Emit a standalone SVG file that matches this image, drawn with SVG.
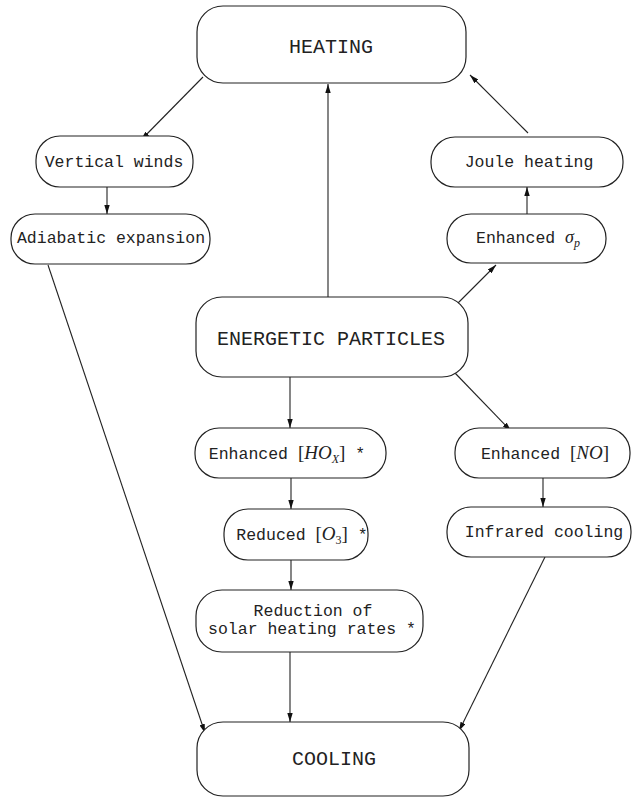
<svg xmlns="http://www.w3.org/2000/svg" width="632" height="798" viewBox="0 0 632 798">
<style>
.box{fill:#fff;stroke:#222;stroke-width:1.2}
.big{font-family:"Liberation Mono",monospace;font-size:20px;fill:#222;text-anchor:middle}
.t{font-family:"Liberation Mono",monospace;font-size:16.5px;fill:#222;text-anchor:middle}
.m{font-family:"Liberation Serif",serif;font-style:italic}
.r{font-family:"Liberation Serif",serif;font-style:normal}
.c{fill:none;stroke:#222;stroke-width:1.1;marker-end:url(#ah)}
</style>
<defs>
<marker id="ah" viewBox="0 0 10 6" refX="10" refY="3" markerWidth="9" markerHeight="5.4" markerUnits="userSpaceOnUse" orient="auto">
<path d="M0,0 L10,3 L0,6 Z" fill="#111"/>
</marker>
</defs>
<g id="connectors">
<path class="c" d="M328,297 L328,84"/>
<path class="c" d="M203,77 L141,140"/>
<path class="c" d="M107,187 L107,214"/>
<path class="c" d="M48,265 L205,733"/>
<path class="c" d="M527,214 L527,187"/>
<path class="c" d="M528,133 L470,75"/>
<path class="c" d="M458,303 L496,265"/>
<path class="c" d="M290,377 L290,428"/>
<path class="c" d="M291,478 L291,509"/>
<path class="c" d="M291,560 L291,590"/>
<path class="c" d="M290,652 L290,722"/>
<path class="c" d="M455,373 L511,431"/>
<path class="c" d="M543,478 L543,507"/>
<path class="c" d="M545,557 L459,731"/>
</g>
<g id="heating">
<rect class="box" x="197" y="6" width="269" height="77" rx="26"/>
<text class="big" x="331" y="53">HEATING</text>
</g>
<g id="vertical-winds">
<rect class="box" x="36" y="136" width="157" height="51" rx="24"/>
<text class="t" x="114" y="167">Vertical winds</text>
</g>
<g id="adiabatic">
<rect class="box" x="11" y="214" width="199" height="50" rx="24"/>
<text class="t" x="111" y="243">Adiabatic expansion</text>
</g>
<g id="joule">
<rect class="box" x="431" y="137" width="192" height="50" rx="24"/>
<text class="t" x="529" y="167">Joule heating</text>
</g>
<g id="sigma">
<rect class="box" x="447" y="214" width="159" height="49" rx="24"/>
<text class="t" x="528" y="243">Enhanced <tspan class="m" font-size="18">σ</tspan><tspan class="m" font-size="12" dy="4">p</tspan></text>
</g>
<g id="energetic">
<rect class="box" x="196" y="297" width="272" height="80" rx="26"/>
<text class="big" x="331" y="345">ENERGETIC PARTICLES</text>
</g>
<g id="hox">
<rect class="box" x="195" y="428" width="191" height="50" rx="24"/>
<text class="t" x="287" y="459">Enhanced <tspan class="r" font-size="19">[</tspan><tspan class="m" font-size="19">HO</tspan><tspan class="m" font-size="12" dy="4">X</tspan><tspan class="r" font-size="19" dy="-4">]</tspan> *</text>
</g>
<g id="o3">
<rect class="box" x="224" y="509" width="144" height="51" rx="24"/>
<text class="t" x="302" y="540">Reduced <tspan class="r" font-size="19">[</tspan><tspan class="m" font-size="19">O</tspan><tspan class="r" font-size="12" dy="4">3</tspan><tspan class="r" font-size="19" dy="-4">]</tspan> *</text>
</g>
<g id="reduction">
<rect class="box" x="196" y="590" width="227" height="62" rx="26"/>
<text class="t" x="313" y="616">Reduction of</text>
<text class="t" x="312" y="634">solar heating rates *</text>
</g>
<g id="no">
<rect class="box" x="455" y="428" width="175" height="50" rx="24"/>
<text class="t" x="545" y="459">Enhanced <tspan class="r" font-size="19">[</tspan><tspan class="m" font-size="19">NO</tspan><tspan class="r" font-size="19">]</tspan></text>
</g>
<g id="infrared">
<rect class="box" x="447" y="507" width="184" height="50" rx="24"/>
<text class="t" x="544" y="537">Infrared cooling</text>
</g>
<g id="cooling">
<rect class="box" x="197" y="722" width="272" height="74" rx="26"/>
<text class="big" x="334" y="765">COOLING</text>
</g>
</svg>
